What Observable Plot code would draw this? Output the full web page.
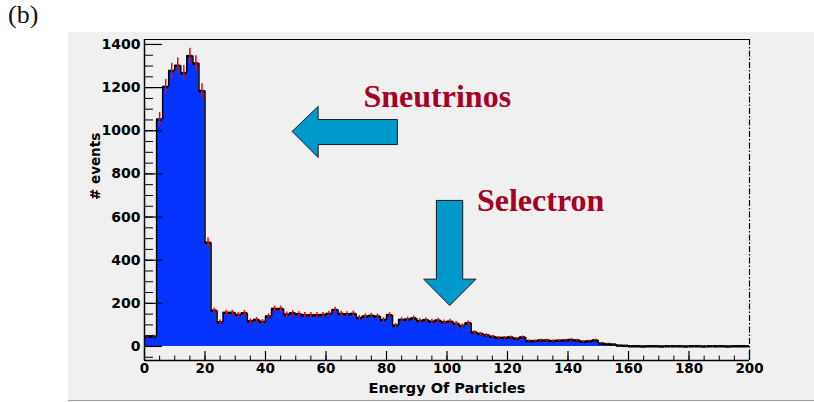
<!DOCTYPE html>
<html>
<head>
<meta charset="utf-8">
<script src="https://cdn.jsdelivr.net/npm/d3@7"></script>
<script src="https://cdn.jsdelivr.net/npm/@observablehq/plot@0.6"></script>
<style>
  body { margin: 0; background: white; }
  #wrap { position: relative; width: 814px; height: 402px; overflow: hidden; }
  #panel { position: absolute; left: 8px; top: 0px; font: 26px "Liberation Serif", serif; color: #111; }
  #bg { position: absolute; left: 68px; top: 32px; width: 746px; height: 368px; background: #f0f0f0; border-bottom: 1px solid #9a9a9a; }
  #chart { position: absolute; left: 0; top: 0; }
</style>
</head>
<body>
<div id="wrap">
  <div id="bg"></div>
  <div id="panel">(b)</div>
  <div id="chart"></div>
</div>
<script>
// ---- data ----
const binWidth = 2;
const binStarts = d3.range(0, 200, binWidth);
const counts = [
  45, 46, 1052, 1203, 1277, 1301, 1267, 1346, 1312, 1184,
  481, 166, 112, 156, 156, 146, 154, 117, 123, 114,
  139, 174, 174, 148, 154, 149, 145, 145, 145, 146,
  151, 169, 151, 149, 151, 132, 139, 142, 139, 123,
  145, 97, 123, 125, 130, 118, 122, 115, 120, 112,
  115, 105, 95, 108, 65, 58, 52, 45, 40, 40,
  42, 36, 42, 25, 25, 28, 28, 25, 27, 28,
  30, 28, 22, 24, 28, 14, 11, 9, 4, 3,
  1, 1, 0, 1, 1, 0, 1, 1, 1, 0,
  1, 1, 0, 1, 1, 1, 0, 1, 1, 1
];
const xTickLabels = [0, 20, 40, 60, 80, 100, 120, 140, 160, 180, 200];
const xMinorTicks = d3.range(0, 201, 5);
const yTickLabels = [0, 200, 400, 600, 800, 1000, 1200, 1400];
const yMinorTicks = d3.range(-50, 1401, 50);
const xTitle = "Energy Of Particles";
const yTitle = "# events";

// annotation arrows (data coordinates)
const leftArrow = [
  {x: 48.8, y: 997}, {x: 57.4, y: 1113}, {x: 57.4, y: 1052}, {x: 83.6, y: 1052},
  {x: 83.6, y: 936}, {x: 57.4, y: 936}, {x: 57.4, y: 876}, {x: 48.8, y: 997}
];
const downArrow = [
  {x: 96.5, y: 677}, {x: 105.2, y: 677}, {x: 105.2, y: 312}, {x: 109.6, y: 312},
  {x: 100.9, y: 190}, {x: 92.3, y: 312}, {x: 96.5, y: 312}, {x: 96.5, y: 677}
];
const labels = [
  {x: 72.4, y: 1108, text: "Sneutrinos"},
  {x: 109.9, y: 630, text: "Selectron"}
];

// ---- derived tables ----
const rows = binStarts.map((s, i) => ({x0: s, x1: s + binWidth, xc: s + binWidth / 2, c: counts[i]}));
const stepPts = rows.map(r => ({x: r.x0, y: r.c})).concat([{x: 200, y: counts[counts.length - 1]}]);
const edges = rows.slice(1).map((r, i) => ({x: r.x0, a: rows[i].c, b: r.c}));
const errs = rows.filter(r => r.c > 0).map(r => ({x: r.xc, lo: r.c - Math.sqrt(r.c), hi: r.c + Math.sqrt(r.c)}));

const W = 814, H = 402;
const mL = 144, mR = 65, mT = 39, mB = 42;
const plotW = W - mL - mR, plotH = H - mT - mB;
const yDomain = [-65, 1423];

const font = "DejaVu Sans";
const chart = Plot.plot({
  width: W, height: H,
  marginLeft: mL, marginRight: mR, marginTop: mT, marginBottom: mB,
  style: {background: "transparent", fontFamily: font, color: "black"},
  x: {domain: [0, 200], axis: null},
  y: {domain: yDomain, axis: null},
  marks: [
    Plot.areaY(stepPts, {x: "x", y: "y", curve: "step-after", fill: "#0533ff"}),
    Plot.ruleX(edges, {x: "x", y1: "a", y2: "b", stroke: "black", strokeWidth: 1.5}),
    Plot.ruleY(rows, {x1: "x0", x2: "x1", y: "c", stroke: "black", strokeWidth: 2.5}),
    Plot.ruleX(errs, {x: "x", y1: "lo", y2: "hi", stroke: "#ff0000", strokeWidth: 1.5}),
    // frame
    Plot.ruleY([yDomain[1]], {stroke: "black", strokeWidth: 1.2}),
    Plot.ruleY([yDomain[0]], {stroke: "black", strokeWidth: 1.5}),
    Plot.ruleX([0], {stroke: "black", strokeWidth: 1.5}),
    Plot.ruleX([200], {stroke: "black", strokeWidth: 1.2, strokeDasharray: "6,2,1.5,2"}),
    // ticks
    Plot.ruleY(yMinorTicks, {y: d => d, insetRight: plotW - 9, stroke: "black", strokeWidth: 1}),
    Plot.ruleY(yTickLabels, {y: d => d, insetRight: plotW - 18, stroke: "black", strokeWidth: 1.2}),
    Plot.ruleX(xMinorTicks, {x: d => d, insetTop: plotH - 4.5, stroke: "black", strokeWidth: 1}),
    Plot.ruleX(xTickLabels, {x: d => d, insetTop: plotH - 9, stroke: "black", strokeWidth: 1.2}),
    // tick labels
    Plot.axisY(yTickLabels, {tickSize: 0, tickPadding: 4, fontSize: 14, fontWeight: "bold", label: null, fontFamily: font, tickFormat: d => String(d)}),
    Plot.axisX(xTickLabels, {tickSize: 0, tickPadding: 3, fontSize: 13.5, fontWeight: "bold", label: null, fontFamily: font, tickFormat: d => String(d)}),
    // axis titles
    Plot.text([xTitle], {frameAnchor: "bottom", dy: 28, lineAnchor: "middle", fontSize: 14.5, fontWeight: "bold", fontFamily: font}),
    Plot.text([yTitle], {frameAnchor: "left", dx: -49, rotate: -90, lineAnchor: "middle", fontSize: 13.5, fontWeight: "bold", fontFamily: font}),
    // annotations
    Plot.line(leftArrow, {x: "x", y: "y", fill: "#0099cc", stroke: "#1a1a1a", strokeWidth: 1, curve: "linear"}),
    Plot.line(downArrow, {x: "x", y: "y", fill: "#0099cc", stroke: "#1a1a1a", strokeWidth: 1, curve: "linear"}),
    Plot.text(labels, {x: "x", y: "y", text: "text", textAnchor: "start", lineAnchor: "bottom",
      fontFamily: "Liberation Serif", fontWeight: "bold", fontSize: 32, fill: "#a50026"})
  ]
});
document.getElementById("chart").appendChild(chart);
</script>
</body>
</html>
